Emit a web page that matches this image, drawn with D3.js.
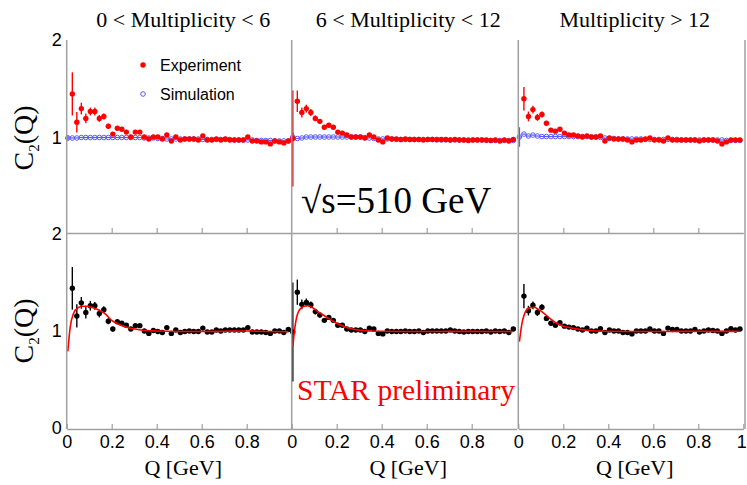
<!DOCTYPE html>
<html>
<head>
<meta charset="utf-8">
<script src="https://cdn.jsdelivr.net/npm/d3@7"></script>
<style>
  body { margin: 0; background: #fff; }
  svg { display: block; }
</style>
</head>
<body>
<svg id="chart" width="747" height="485"></svg>
<script>
// Q bin centres [GeV]
var qBins = [0.005, 0.025, 0.045, 0.065, 0.085, 0.105, 0.125, 0.145, 0.165, 0.185,
             0.205, 0.225, 0.245, 0.265, 0.285, 0.305, 0.325, 0.345, 0.365, 0.385,
             0.405, 0.425, 0.445, 0.465, 0.485, 0.505, 0.525, 0.545, 0.565, 0.585,
             0.605, 0.625, 0.645, 0.665, 0.685, 0.705, 0.725, 0.745, 0.765, 0.785,
             0.805, 0.825, 0.845, 0.865, 0.885, 0.905, 0.925, 0.945, 0.965, 0.985]

var panelTitles = ['0 < Multiplicity < 6', '6 < Multiplicity < 12', 'Multiplicity > 12']

// top row: experiment (red) and simulation (blue)
var expLow = [null, 1.45, 1.16, 1.30, 1.20, 1.27, 1.27, 1.20, 1.22, 1.12,
              1.04, 1.10, 1.09, 1.06, 1.01, 1.06, 1.06, 1.01, 0.99, 1.01,
              1.01, 0.99, 1.03, 0.97, 1.01, 0.98, 0.99, 0.99, 0.99, 0.98,
              1.02, 0.98, 0.98, 0.99, 0.98, 0.99, 0.98, 0.98, 0.98, 0.98,
              1.01, 0.97, 0.97, 0.96, 0.96, 0.94, 0.97, 0.96, 0.95, 0.97]
var expMid = [0.995, 1.375, 1.26, 1.30, 1.26, 1.20, 1.17, 1.11, 1.13, 1.11,
              1.06, 1.05, 1.03, 1.01, 1.01, 1.01, 1.00, 1.03, 1.01, 0.98,
              0.96, 1.00, 0.99, 0.99, 0.985, 0.99, 0.985, 0.985, 0.985, 0.98,
              0.985, 0.985, 0.985, 0.985, 0.985, 0.98, 0.985, 0.98, 0.98, 0.975,
              0.98, 0.98, 0.98, 0.98, 0.975, 0.98, 0.97, 0.98, 0.97, 0.985]
var expHigh = [null, 1.40, 1.22, 1.29, 1.21, 1.24, 1.15, 1.08, 1.07, 1.09,
               1.05, 1.03, 1.03, 1.02, 1.01, 1.02, 1.01, 1.01, 1.02, 0.97,
               1.00, 0.99, 0.99, 0.99, 0.98, 0.96, 0.98, 0.98, 0.99, 1.00,
               0.98, 0.98, 0.97, 1.00, 0.98, 0.98, 0.98, 0.98, 0.98, 0.98,
               0.97, 0.98, 0.98, 0.98, 0.97, 0.94, 0.96, 0.98, 0.98, 0.98]
// visible error bars on the first bins (the rest hide under the markers)
var expErrLow = [0, 0.22, 0.105, 0.06, 0.05, 0.04, 0.04, 0.035, 0.03, 0.025, 0.02, 0.02]
var expErrMid = [0.49, 0.11, 0.05, 0.04, 0.035, 0.03, 0.025, 0.02, 0.02, 0.015]
var expErrHigh = [0, 0.12, 0.05, 0.04, 0.035, 0.03, 0.025, 0.02, 0.02, 0.015]

var simLow = [1.0, 1.0, 1.0, 1.005, 1.005, 1.005, 1.005, 1.005, 1.005, 1.005,
              1.005, 1.005, 1.005, 1.005, 1.005, 1.005, 1.005, 1.0, 1.0, 1.0,
              0.995, 0.995, 0.99, 0.99, 0.99, 0.99, 0.99, 0.99, 0.99, 0.99,
              0.985, 0.985, 0.985, 0.985, 0.985, 0.985, 0.985, 0.98, 0.98, 0.98,
              0.98, 0.98, 0.975, 0.975, 0.975, 0.975, 0.97, 0.97, 0.97, 0.97]
var simMid = [1.01, 0.995, 1.0, 1.01, 1.01, 1.01, 1.01, 1.01, 1.01, 1.01,
              1.01, 1.01, 1.01, 1.01, 1.01, 1.01, 1.005, 1.0, 0.995, 0.99,
              0.99, 0.99, 0.99, 0.985, 0.985, 0.985, 0.985, 0.985, 0.985, 0.985,
              0.985, 0.985, 0.98, 0.98, 0.98, 0.98, 0.98, 0.98, 0.98, 0.98,
              0.98, 0.98, 0.98, 0.975, 0.975, 0.975, 0.975, 0.975, 0.975, 0.975]
var simHigh = [1.01, 1.04, 1.02, 1.03, 1.02, 1.015, 1.015, 1.015, 1.015, 1.015,
               1.015, 1.015, 1.015, 1.015, 1.015, 1.015, 1.01, 1.01, 1.005, 1.0,
               0.995, 0.995, 0.99, 0.99, 0.99, 0.99, 0.99, 0.99, 0.985, 0.985,
               0.985, 0.985, 0.985, 0.985, 0.985, 0.985, 0.98, 0.98, 0.98, 0.98,
               0.98, 0.98, 0.98, 0.98, 0.98, 0.98, 0.975, 0.975, 0.975, 0.975]
var simErr0 = [0.03, 0.045, 0.1]

// bottom row: corrected correlation (black) and fit (red)
var corrLow = [null, 1.44, 1.155, 1.29, 1.19, 1.26, 1.26, 1.18, 1.22, 1.10,
               1.02, 1.095, 1.08, 1.06, 1.02, 1.055, 1.055, 1.00, 0.975, 1.005,
               0.995, 0.985, 1.035, 0.975, 1.01, 0.985, 0.995, 1.0, 0.995, 0.995,
               1.03, 0.99, 0.99, 1.01, 1.0, 1.01, 1.01, 1.01, 1.01, 1.01,
               1.035, 0.99, 0.99, 0.99, 0.985, 0.975, 1.0, 1.0, 0.985, 1.015]
var corrMid = [0.99, 1.40, 1.275, 1.295, 1.27, 1.20, 1.165, 1.11, 1.14, 1.11,
               1.06, 1.06, 1.02, 1.01, 1.01, 1.01, 0.995, 1.03, 1.02, 0.975,
               0.97, 1.0, 0.995, 0.995, 0.995, 1.0, 0.995, 0.995, 1.0, 0.985,
               1.0, 1.0, 1.0, 1.0, 1.0, 1.01, 1.0, 0.995, 0.99, 0.995,
               0.995, 0.995, 0.995, 1.0, 0.99, 1.0, 0.995, 1.0, 0.985, 1.02]
var corrHigh = [null, 1.36, 1.21, 1.265, 1.19, 1.245, 1.13, 1.08, 1.06, 1.085,
                1.05, 1.04, 1.035, 1.02, 1.01, 1.03, 1.0, 1.0, 1.025, 0.985,
                1.01, 1.0, 1.0, 0.985, 0.985, 0.97, 1.0, 1.0, 1.0, 1.02,
                1.0, 1.0, 0.975, 1.03, 1.015, 1.015, 1.0, 1.0, 1.0, 1.015,
                0.99, 1.0, 1.01, 1.005, 1.0, 0.975, 1.0, 1.025, 1.01, 1.02]
var corrErrLow = [0, 0.22, 0.12, 0.06, 0.06, 0.05, 0.04, 0.04, 0.035, 0.03, 0.025, 0.02]
var corrErrMid = [0.51, 0.13, 0.05, 0.04, 0.035, 0.03, 0.025, 0.02, 0.02, 0.015]
var corrErrHigh = [0, 0.125, 0.05, 0.04, 0.035, 0.03, 0.025, 0.02, 0.02, 0.015]

var fitQ = [0.005, 0.015, 0.03, 0.05, 0.07, 0.09, 0.11, 0.14, 0.17, 0.2,
            0.23, 0.27, 0.33, 0.4, 0.5, 0.6, 0.7, 0.8, 0.9, 0.985]
var fitLow = [0.79, 1.03, 1.18, 1.24, 1.255, 1.255, 1.245, 1.22, 1.18, 1.11,
              1.07, 1.035, 1.01, 1.0, 0.995, 0.995, 0.997, 1.0, 0.995, 0.993]
var fitMid = [0.84, 1.05, 1.2, 1.25, 1.26, 1.245, 1.21, 1.165, 1.12, 1.08,
              1.05, 1.02, 1.003, 0.997, 0.995, 0.995, 0.996, 0.996, 0.995, 0.995]
var fitHigh = [0.89, 1.06, 1.19, 1.24, 1.245, 1.22, 1.19, 1.13, 1.08, 1.05,
               1.035, 1.017, 1.003, 0.997, 0.995, 0.995, 0.996, 0.997, 0.996, 0.998]

var xTicks = [0, 0.2, 0.4, 0.6, 0.8]
var xTicksLast = [0, 0.2, 0.4, 0.6, 0.8, 1]

var exp = [expLow, expMid, expHigh]
var expErr = [expErrLow, expErrMid, expErrHigh]
var sim = [simLow, simMid, simHigh]
var corr = [corrLow, corrMid, corrHigh]
var corrErr = [corrErrLow, corrErrMid, corrErrHigh]
var fits = [fitLow, fitMid, fitHigh]

var svg = d3.select('#chart')
var frameColor = '#a0a0a0'
var serif = '"Liberation Serif", "Times New Roman", serif'
var sans = '"Liberation Sans", Arial, sans-serif'

var panelLeft = [66.7, 291.7, 518.3]
var panelW = 225
var yTop = d3.scaleLinear().domain([0, 2]).range([236, 40])
var yBot = d3.scaleLinear().domain([0, 2]).range([428, 234])

function pts(vals, errs) {
  return qBins.map((q, i) => ({q: q, v: vals[i], e: (errs && errs[i]) || 0.01}))
    .filter(d => d.v != null)
}

function drawPoints(g, x, y, data, color, filled) {
  g.append('g').selectAll('line')
    .data(data)
    .join('line')
    .attr('x1', d => x(d.q)).attr('x2', d => x(d.q))
    .attr('y1', d => y(d.v - d.e)).attr('y2', d => y(d.v + d.e))
    .attr('stroke', color)
    .attr('stroke-width', 1.4)
  g.append('g').selectAll('line')
    .data(data)
    .join('line')
    .attr('x1', d => x(d.q - 0.01)).attr('x2', d => x(d.q + 0.01))
    .attr('y1', d => y(d.v)).attr('y2', d => y(d.v))
    .attr('stroke', color)
    .attr('stroke-width', 1.2)
  g.append('g').selectAll('circle')
    .data(data)
    .join('circle')
    .attr('cx', d => x(d.q))
    .attr('cy', d => y(d.v))
    .attr('r', filled ? 2.7 : 2.3)
    .attr('fill', filled ? color : 'none')
    .attr('stroke', color)
    .attr('stroke-width', filled ? 0 : 1)
}

panelTitles.forEach(function(title, i) {
  var x = d3.scaleLinear().domain([0, 1]).range([panelLeft[i], panelLeft[i] + panelW])
  var g = svg.append('g')

  // top row markers (simulation error only visible on first bin)
  var simData = pts(sim[i], [simErr0[i]]).map((d, k) => k == 0 ? d : {q: d.q, v: d.v, e: 0})
  drawPoints(g, x, yTop, simData, '#5a5aff', false)
  drawPoints(g, x, yTop, pts(exp[i], expErr[i]), '#ff0000', true)

  // bottom row markers + fit
  drawPoints(g, x, yBot, pts(corr[i], corrErr[i]), '#000000', true)
  var line = d3.line()
    .x(d => x(d[0]))
    .y(d => yBot(d[1]))
    .curve(d3.curveMonotoneX)
  g.append('path')
    .datum(fitQ.map((q, k) => [q, fits[i][k]]))
    .attr('d', line)
    .attr('fill', 'none')
    .attr('stroke', '#ff0000')
    .attr('stroke-width', 1.6)

  // frame: left edge and horizontal axes
  g.append('line')
    .attr('x1', x(0)).attr('x2', x(0))
    .attr('y1', 40).attr('y2', 429)
    .attr('stroke', frameColor).attr('stroke-width', 1.5)

  var topAxis = g.append('g')
    .attr('transform', 'translate(0,233)')
    .call(d3.axisBottom(x).tickValues([0.2, 0.4, 0.6, 0.8]).tickSize(-5).tickSizeOuter(0).tickFormat(''))
  var botAxis = g.append('g')
    .attr('transform', 'translate(0,429)')
    .call(d3.axisBottom(x).tickValues(i == 2 ? xTicksLast : xTicks)
      .tickSize(-5).tickSizeOuter(0).tickPadding(6).tickFormat(d3.format('')))
  ;[topAxis, botAxis].forEach(a => {
    a.select('.domain').attr('stroke', frameColor).attr('stroke-width', 1.5)
    a.selectAll('.tick line').attr('stroke', frameColor).attr('stroke-width', 1.2)
    a.selectAll('text').attr('font-family', sans).attr('font-size', 18).attr('fill', '#000')
  })
  // the last "1" sits right at the window edge
  botAxis.selectAll('.tick text').filter(d => d == 1).attr('dx', -2)

  // titles
  g.append('text')
    .attr('x', x(0.5) + 4).attr('y', 27)
    .attr('text-anchor', 'middle')
    .attr('font-family', serif).attr('font-size', 22)
    .text(title)
  g.append('text')
    .attr('x', x(0.5) + 4).attr('y', 475)
    .attr('text-anchor', 'middle')
    .attr('font-family', serif).attr('font-size', 22)
    .text('Q [GeV]')
})

// right border
svg.append('line')
  .attr('x1', 745).attr('x2', 745).attr('y1', 40).attr('y2', 429)
  .attr('stroke', frameColor).attr('stroke-width', 1.5)

// y axes labels on the left panel
;[[yTop, [1, 2]], [yBot, [0, 1, 2]]].forEach(function(a) {
  var ax = svg.append('g')
    .attr('transform', 'translate(' + panelLeft[0] + ',0)')
    .call(d3.axisLeft(a[0]).tickValues(a[1]).tickSize(0).tickPadding(5).tickFormat(d3.format('')))
  ax.select('.domain').remove()
  ax.selectAll('text').attr('font-family', sans).attr('font-size', 18).attr('fill', '#000')

  var t = svg.append('text')
    .attr('transform', 'translate(33,' + a[0](1) + ') rotate(-90)')
    .attr('text-anchor', 'middle')
    .attr('font-family', serif).attr('font-size', 28)
  t.append('tspan').text('C')
  t.append('tspan').attr('font-size', 15).attr('dy', 6).text('2')
  t.append('tspan').attr('dy', -6).text('(Q)')
})

// legend
var legend = svg.append('g')
var legendItems = [['Experiment', '#ff0000', true], ['Simulation', '#5a5aff', false]]
legend.selectAll('circle')
  .data(legendItems)
  .join('circle')
  .attr('cx', 143).attr('cy', (d, i) => 65 + i * 29)
  .attr('r', d => d[2] ? 2.7 : 2.3)
  .attr('fill', d => d[2] ? d[1] : 'none')
  .attr('stroke', d => d[1])
  .attr('stroke-width', d => d[2] ? 0 : 1)
legend.selectAll('text')
  .data(legendItems)
  .join('text')
  .attr('x', 160).attr('y', (d, i) => 71 + i * 29)
  .attr('font-family', sans).attr('font-size', 16)
  .text(d => d[0])

// annotations
svg.append('text')
  .attr('x', 301).attr('y', 213)
  .attr('font-family', serif).attr('font-size', 37)
  .text('\u221As=510 GeV')
svg.append('text')
  .attr('x', 297).attr('y', 400)
  .attr('font-family', serif).attr('font-size', 29.5)
  .attr('fill', '#ff0000')
  .text('STAR preliminary')
</script>
</body>
</html>
